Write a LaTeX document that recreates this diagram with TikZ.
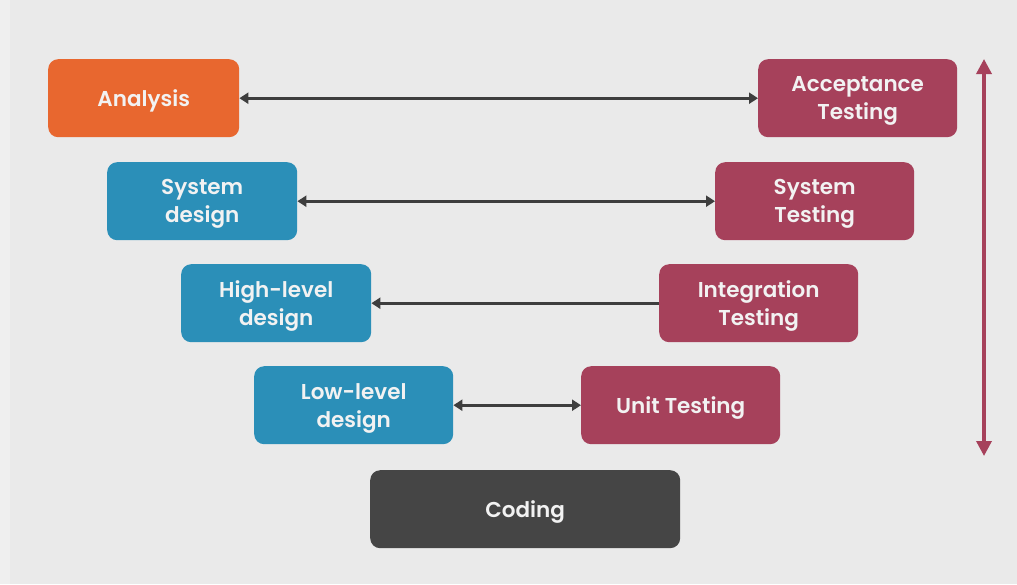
\documentclass[tikz,border=0pt]{standalone}
\usepackage{fontspec}
\setmainfont{Poppins}[UprightFont=* SemiBold, BoldFont=* Bold]
\usetikzlibrary{arrows.meta}
\definecolor{bgcol}{HTML}{EAEAEA}
\definecolor{edgecol}{HTML}{EFEFEF}
\definecolor{orangecol}{HTML}{E8672F}
\definecolor{bluecol}{HTML}{2B8FB8}
\definecolor{redcol}{HTML}{A6415B}
\definecolor{darkcol}{HTML}{454545}
\definecolor{linkcol}{HTML}{3E3E3E}
\definecolor{txtcol}{HTML}{F2F2F2}
\begin{document}
\begin{tikzpicture}[x=1pt,y=-1pt,
  phase/.style={rounded corners=10pt, minimum width=191pt, minimum height=78pt,
    inner sep=0pt, anchor=north west},
  design/.style={phase, fill=bluecol},
  testing/.style={phase, fill=redcol, minimum width=199pt},
  lbl/.style={text=txtcol, align=center, inner sep=0pt,
    font=\fontsize{21.5}{28}\selectfont},
  link/.style={draw=linkcol, line width=2.6pt, {Triangle[length=9pt,width=11pt]}-{Triangle[length=9pt,width=11pt]}},
  linkl/.style={draw=linkcol, line width=2.6pt, -{Triangle[length=9pt,width=11pt]}}]
  % canvas
  \fill[bgcol] (0,0) rectangle (1017,584);
  \fill[edgecol] (0,0) rectangle (10,584);
  \useasboundingbox (0,0) rectangle (1017,584);
  % left branch
  \node[phase, fill=orangecol] (ana) at (48,59) {};
  \node[design, minimum width=190pt] (sysd) at (107,162) {};
  \node[design, minimum width=190pt] (hld) at (181,264) {};
  \node[design, minimum width=199pt] (lld) at (254,366) {};
  % bottom
  \node[phase, fill=darkcol, minimum width=310pt] (cod) at (370,470) {};
  % right branch
  \node[testing] (acc) at (758,59) {};
  \node[testing] (syst) at (715,162) {};
  \node[testing] (intt) at (659,264) {};
  \node[testing] (unit) at (581,366) {};
  % box texts
  \node[lbl] (ana-t) at ([yshift=-3pt]ana.center) {Analysis};
  \node[lbl] (sysd-t) at ([yshift=-3pt]sysd.center) {System\\design};
  \node[lbl] (hld-t) at ([yshift=-3pt]hld.center) {High-level\\design};
  \node[lbl] (lld-t) at ([yshift=-3pt]lld.center) {Low-level\\design};
  \node[lbl] (cod-t) at ([yshift=-3pt]cod.center) {Coding};
  \node[lbl] (acc-t) at ([yshift=-3pt]acc.center) {Acceptance\\Testing};
  \node[lbl] (syst-t) at ([yshift=-3pt]syst.center) {System\\Testing};
  \node[lbl] (intt-t) at ([yshift=-3pt]intt.center) {Integration\\Testing};
  \node[lbl] (unit-t) at ([yshift=-3pt]unit.center) {Unit Testing};
  % links between levels
  \draw[link] (ana.east) -- (acc.west);
  \draw[link] (sysd.east) -- (syst.west);
  \draw[linkl] (intt.west) -- (hld.east);
  \draw[link] (lld.east) -- (unit.west);
  % vertical axis
  \coordinate (top) at (984,59);
  \coordinate (bot) at (984,456);
  \draw[draw=redcol, line width=3.4pt, {Triangle[length=15pt,width=15pt]}-{Triangle[length=15pt,width=15pt]}] (top) -- (bot);
\end{tikzpicture}
\end{document}
